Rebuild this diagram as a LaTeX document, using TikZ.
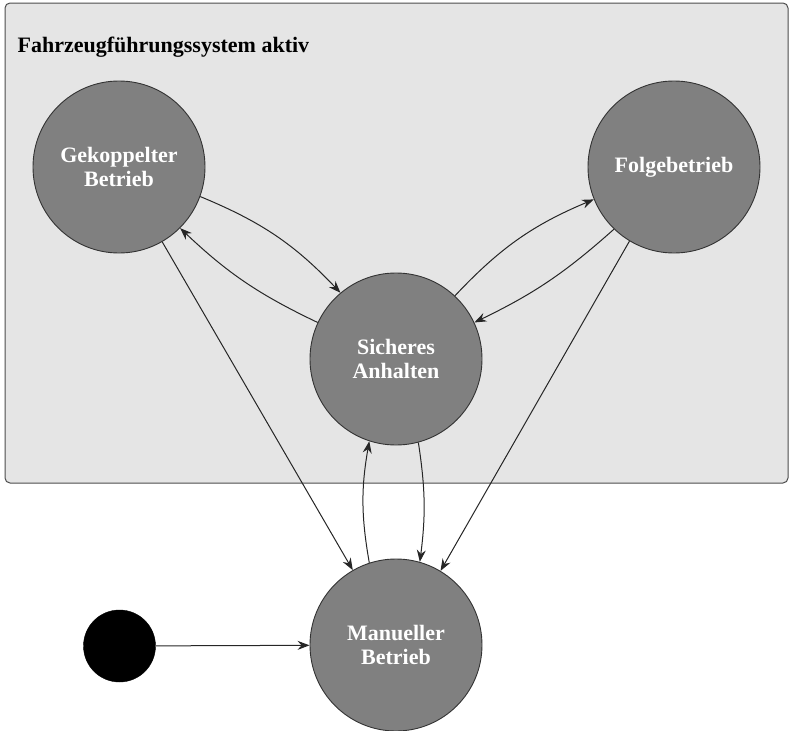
\documentclass[tikz,border=0pt]{standalone}
\usepackage{fontspec}
\setmainfont{Liberation Serif}
\usetikzlibrary{arrows.meta}
\begin{document}
\begin{tikzpicture}[x=1pt,y=-1pt,
  state/.style={circle, draw=black!80, line width=0.9pt, fill=gray, text=white,
    minimum size=172pt, inner sep=0pt, align=center,
    font=\bfseries\fontsize{22}{24}\selectfont},
  startdot/.style={circle, fill=black, draw=black, minimum size=72pt, inner sep=0pt},
  arr/.style={draw=black!85, line width=1pt, -{Stealth[length=12pt,width=9pt,inset=4pt]}},
  frame/.style={fill=black!10, draw=black!70, line width=1pt, rounded corners=5pt},
  titletext/.style={font=\bfseries\fontsize{22}{24}\selectfont, anchor=base west, inner sep=0pt}]
\useasboundingbox (0,0) rectangle (790,731);
\path[frame] (5,3) rectangle (788,483);
\node[titletext] (title) at (17.5,52) {Fahrzeugführungssystem aktiv};

\node[state] (g) at (119,167) {Gekoppelter\\Betrieb};
\node[state] (f) at (674,167) {Folgebetrieb};
\node[state] (s) at (396,359) {Sicheres\\Anhalten};
\node[state] (m) at (396,645) {Manueller\\Betrieb};
\node[startdot] (start) at (119.5,646) {};

\draw[arr] (g.-20) to[bend left=12] (s.130);
\draw[arr] (s.155) to[bend left=9] (g.-45);
\draw[arr] (s.47) to[bend left=12] (f.-158);
\draw[arr] (f.-134) to[bend left=8] (s.25);
\draw[arr] (g.-60) -- (m.120);
\draw[arr] (f.-121) -- (m.59);
\draw[arr] (m.108) to[bend left=10] (s.-108);
\draw[arr] (s.-75) to[bend left=8] (m.74.5);
\draw[arr] (start) -- (m);
\end{tikzpicture}
\end{document}
